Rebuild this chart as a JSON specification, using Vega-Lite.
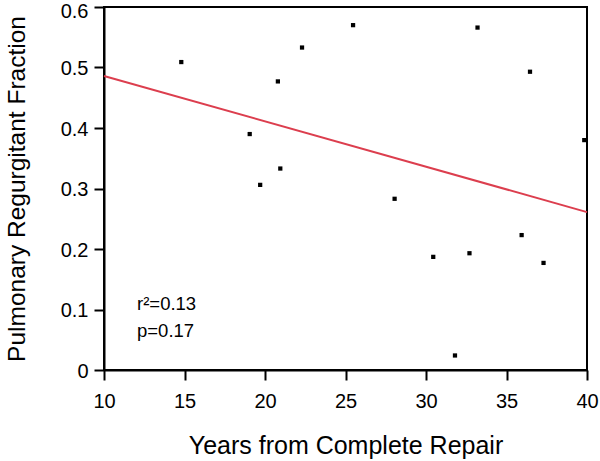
{
  "$schema": "https://vega.github.io/schema/vega-lite/v6.json",
  "width": 483,
  "height": 363,
  "autosize": "none",
  "padding": {"left": 104, "top": 7, "right": 13, "bottom": 91},
  "background": "white",
  "config": {
    "font": "Liberation Sans",
    "view": {"stroke": "black", "strokeWidth": 2},
    "axis": {
      "grid": false,
      "domainColor": "black",
      "domainWidth": 2,
      "tickColor": "black",
      "tickWidth": 2,
      "tickSize": 10,
      "labelColor": "black",
      "titleColor": "black",
      "labelFont": "Liberation Sans",
      "titleFont": "Liberation Sans",
      "labelFontSize": 20,
      "titleFontSize": 24.5,
      "titleFontWeight": "normal",
      "labelFlush": false,
      "labelOverlap": false
    }
  },
  "layer": [
    {
      "data": {"values": [
        {"years": 14.8, "prf": 0.509},
        {"years": 22.3, "prf": 0.533},
        {"years": 20.8, "prf": 0.477},
        {"years": 19.05, "prf": 0.390},
        {"years": 20.95, "prf": 0.333},
        {"years": 19.7, "prf": 0.306},
        {"years": 25.47, "prf": 0.570},
        {"years": 33.2, "prf": 0.566},
        {"years": 36.46, "prf": 0.493},
        {"years": 39.83, "prf": 0.380},
        {"years": 28.05, "prf": 0.283},
        {"years": 30.45, "prf": 0.187},
        {"years": 32.7, "prf": 0.193},
        {"years": 35.94, "prf": 0.223},
        {"years": 37.3, "prf": 0.177},
        {"years": 31.8, "prf": 0.024}
      ]},
      "mark": {"type": "square", "filled": true, "color": "black", "size": 18, "opacity": 1},
      "encoding": {
        "x": {
          "field": "years", "type": "quantitative",
          "scale": {"domain": [10, 40], "nice": false, "zero": false},
          "axis": {"values": [10, 15, 20, 25, 30, 35, 40], "title": "Years from Complete Repair", "labelPadding": 11, "titlePadding": 22, "titleFontSize": 25}
        },
        "y": {
          "field": "prf", "type": "quantitative",
          "scale": {"domain": [0, 0.6], "nice": false},
          "axis": {
            "values": [0, 0.1, 0.2, 0.3, 0.4, 0.5, 0.6],
            "title": "Pulmonary Regurgitant Fraction",
            "labelPadding": 6,
            "titlePadding": 31,
            "titleFontSize": 24.5,
            "format": "~g",
            "labelOffset": {"condition": {"test": "datum.value >= 0.6", "value": 4}, "value": 1}
          }
        }
      }
    },
    {
      "data": {"values": [
        {"years": 10, "prf": 0.486},
        {"years": 40, "prf": 0.261}
      ]},
      "mark": {"type": "line", "color": "#dc3e4e", "strokeWidth": 2},
      "encoding": {
        "x": {"field": "years", "type": "quantitative"},
        "y": {"field": "prf", "type": "quantitative"}
      }
    },
    {
      "data": {"values": [
        {"years": 12.05, "prf": 0.109, "label": "r²=0.13"},
        {"years": 12.05, "prf": 0.064, "label": "p=0.17"}
      ]},
      "mark": {"type": "text", "align": "left", "baseline": "middle", "fontSize": 18.5, "color": "black", "font": "Liberation Sans"},
      "encoding": {
        "x": {"field": "years", "type": "quantitative"},
        "y": {"field": "prf", "type": "quantitative"},
        "text": {"field": "label"}
      }
    }
  ]
}
